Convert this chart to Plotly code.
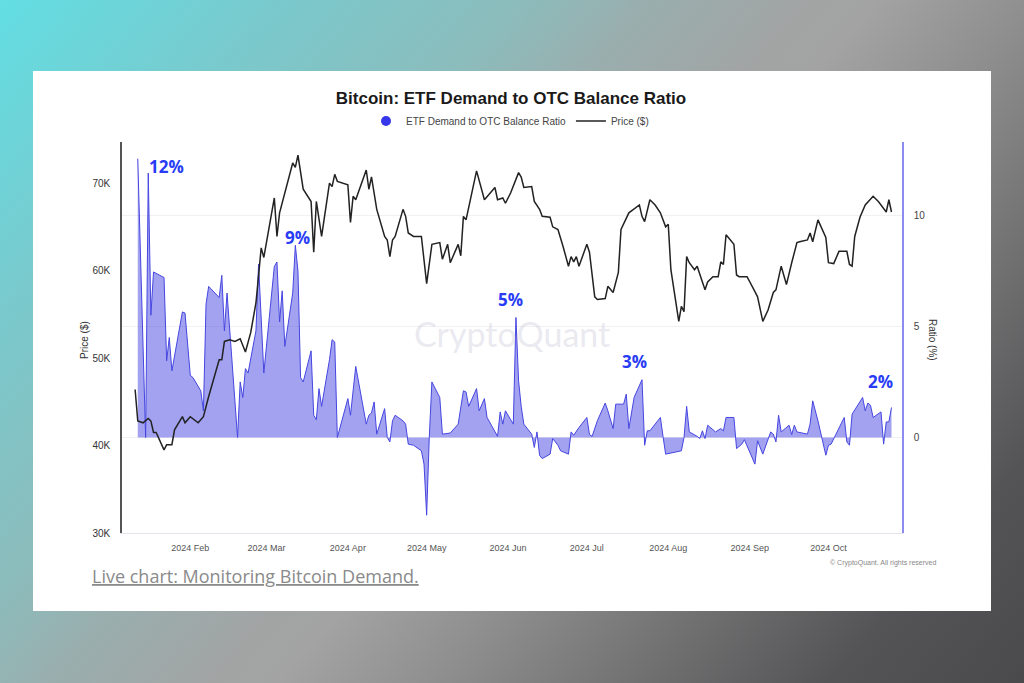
import base64
import plotly.graph_objects as go

# ---------------- data ----------------
price_dates = ["2024-01-11","2024-01-12","2024-01-14","2024-01-16","2024-01-17","2024-01-18","2024-01-19","2024-01-22","2024-01-23","2024-01-25",
"2024-01-26","2024-01-29","2024-01-30","2024-02-01","2024-02-04","2024-02-06","2024-02-08","2024-02-12","2024-02-13","2024-02-14",
"2024-02-16","2024-02-18","2024-02-20","2024-02-22","2024-02-24","2024-02-26","2024-02-28","2024-02-29","2024-03-04","2024-03-05",
"2024-03-06","2024-03-11","2024-03-12","2024-03-13","2024-03-15","2024-03-18","2024-03-19","2024-03-20","2024-03-22","2024-03-25",
"2024-03-26","2024-03-27","2024-03-28","2024-04-01","2024-04-02","2024-04-03","2024-04-04","2024-04-06","2024-04-08","2024-04-09",
"2024-04-10","2024-04-12","2024-04-15","2024-04-16","2024-04-17","2024-04-18","2024-04-19","2024-04-22","2024-04-23","2024-04-24",
"2024-04-26","2024-04-29","2024-05-01","2024-05-03","2024-05-06","2024-05-07","2024-05-09","2024-05-10","2024-05-13","2024-05-14",
"2024-05-15","2024-05-16","2024-05-20","2024-05-23","2024-05-27","2024-05-28","2024-05-30","2024-05-31","2024-06-02","2024-06-05",
"2024-06-06","2024-06-07","2024-06-10","2024-06-11","2024-06-13","2024-06-14","2024-06-17","2024-06-18","2024-06-20","2024-06-22",
"2024-06-24","2024-06-25","2024-06-26","2024-06-27","2024-06-28","2024-07-01","2024-07-02","2024-07-04","2024-07-05","2024-07-08",
"2024-07-09","2024-07-11","2024-07-13","2024-07-14","2024-07-15","2024-07-17","2024-07-21","2024-07-22","2024-07-23","2024-07-25",
"2024-07-27","2024-07-29","2024-07-31","2024-08-01","2024-08-02","2024-08-05","2024-08-06","2024-08-07","2024-08-08","2024-08-09",
"2024-08-11","2024-08-12","2024-08-14","2024-08-15","2024-08-16","2024-08-18","2024-08-20","2024-08-21","2024-08-22","2024-08-23",
"2024-08-26","2024-08-27","2024-08-28","2024-08-31","2024-09-03","2024-09-04","2024-09-06","2024-09-08","2024-09-10","2024-09-11",
"2024-09-13","2024-09-15","2024-09-17","2024-09-19","2024-09-20","2024-09-23","2024-09-24","2024-09-25","2024-09-27","2024-09-30",
"2024-10-01","2024-10-03","2024-10-05","2024-10-08","2024-10-09","2024-10-10","2024-10-11","2024-10-13","2024-10-15","2024-10-16",
"2024-10-18","2024-10-20","2024-10-21","2024-10-23","2024-10-24","2024-10-25"]
price_k = [46.4,42.8,42.6,43.1,42.8,41.5,41.5,39.5,40.1,40.1,
41.8,43.3,42.6,43.3,42.6,43.3,45.6,49.8,49.8,51.9,
52.1,51.9,52.2,50.7,52.9,56.3,62.6,61.5,68.3,63.9,
66.6,72.3,71.8,73.2,69.3,67.9,62.1,67.9,63.9,70.0,
69.6,71.0,70.2,69.8,65.5,68.5,68.1,69.8,71.5,69.3,
70.7,67.0,63.9,63.5,61.6,63.5,63.9,67.0,66.2,64.3,
63.9,63.9,58.5,63.0,63.2,61.3,63.0,60.9,63.0,61.7,
66.2,65.8,71.4,68.1,69.5,68.1,68.3,67.7,68.9,71.2,
70.7,69.5,69.6,67.9,67.0,66.2,66.1,65.0,64.7,62.7,
60.5,61.6,61.0,61.6,60.5,63.0,62.1,57.0,56.7,56.8,
58.2,57.5,59.8,64.7,65.3,66.6,67.5,66.2,65.6,68.1,
67.5,66.6,65.0,65.3,60.1,54.2,55.9,55.3,61.6,60.9,
60.1,60.5,58.7,57.8,58.7,59.3,59.3,61.0,60.7,64.1,
63.0,59.5,59.3,59.3,57.6,57.0,54.2,55.5,57.5,57.8,
60.5,58.4,60.9,63.2,63.3,63.5,64.3,63.3,65.8,63.8,
60.9,60.8,62.2,62.2,60.7,60.5,63.9,66.1,67.5,67.8,
68.5,67.9,67.5,66.7,68.1,66.7]

ratio_dates = ["2024-01-12","2024-01-15","2024-01-16","2024-01-17","2024-01-18","2024-01-22","2024-01-23","2024-01-24","2024-01-25","2024-01-29",
"2024-01-30","2024-02-01","2024-02-02","2024-02-05","2024-02-06","2024-02-07","2024-02-08","2024-02-12","2024-02-13","2024-02-14",
"2024-02-15","2024-02-19","2024-02-20","2024-02-21","2024-02-22","2024-02-23","2024-02-26","2024-02-27","2024-02-29","2024-03-04",
"2024-03-05","2024-03-06","2024-03-07","2024-03-08","2024-03-11","2024-03-12","2024-03-13","2024-03-14","2024-03-15","2024-03-18",
"2024-03-19","2024-03-20","2024-03-21","2024-03-22","2024-03-25","2024-03-26","2024-03-27","2024-03-28","2024-04-01","2024-04-02",
"2024-04-04","2024-04-08","2024-04-09","2024-04-10","2024-04-11","2024-04-12","2024-04-15","2024-04-16","2024-04-17","2024-04-18",
"2024-04-19","2024-04-22","2024-04-23","2024-04-24","2024-04-26","2024-04-29","2024-04-30","2024-05-01","2024-05-02","2024-05-03",
"2024-05-06","2024-05-07","2024-05-10","2024-05-13","2024-05-15","2024-05-16","2024-05-17","2024-05-20","2024-05-21","2024-05-23",
"2024-05-24","2024-05-28","2024-05-29","2024-05-30","2024-05-31","2024-06-03","2024-06-04","2024-06-05","2024-06-06","2024-06-07",
"2024-06-10","2024-06-11","2024-06-12","2024-06-13","2024-06-14","2024-06-17","2024-06-18","2024-06-20","2024-06-21","2024-06-24",
"2024-06-25","2024-06-26","2024-06-28","2024-07-01","2024-07-02","2024-07-03","2024-07-05","2024-07-08","2024-07-09","2024-07-11",
"2024-07-12","2024-07-15","2024-07-16","2024-07-17","2024-07-19","2024-07-22","2024-07-23","2024-07-24","2024-07-25","2024-07-29",
"2024-07-30","2024-07-31","2024-08-06","2024-08-07","2024-08-08","2024-08-09","2024-08-12","2024-08-13","2024-08-14","2024-08-15",
"2024-08-16","2024-08-19","2024-08-21","2024-08-22","2024-08-23","2024-08-26","2024-08-27","2024-08-29","2024-08-30","2024-09-03",
"2024-09-04","2024-09-06","2024-09-09","2024-09-10","2024-09-11","2024-09-12","2024-09-13","2024-09-16","2024-09-17","2024-09-18",
"2024-09-19","2024-09-23","2024-09-24","2024-09-25","2024-09-27","2024-09-30","2024-10-01","2024-10-02","2024-10-07","2024-10-08",
"2024-10-09","2024-10-10","2024-10-14","2024-10-15","2024-10-16","2024-10-17","2024-10-18","2024-10-21","2024-10-22","2024-10-23",
"2024-10-24","2024-10-25"]
ratio_pct = [12.55,0.0,11.9,5.5,7.45,7.2,3.45,4.5,3.0,5.65,
5.6,2.8,2.7,2.1,1.2,6.0,6.8,6.3,7.3,4.8,
6.5,0.0,2.5,1.8,3.1,2.9,4.8,7.8,2.9,7.7,
7.9,5.2,6.6,4.1,6.5,8.65,7.5,2.7,2.5,3.9,
1.0,0.8,2.2,1.4,3.5,4.4,4.3,0.0,1.75,1.0,
3.2,0.6,1.0,1.1,1.6,0.15,1.3,0.0,-0.2,0.75,
1.0,0.75,0.6,-0.3,-0.35,-0.6,-1.2,-3.5,0.0,2.5,
1.8,0.15,0.2,0.6,2.1,2.05,1.4,2.2,1.2,1.75,
0.9,0.05,1.15,0.6,1.2,0.6,5.4,2.55,1.4,0.6,
0.15,-0.45,0.25,-0.8,-0.95,-0.75,-0.05,-0.35,-0.6,-0.75,
0.25,0.1,0.45,0.9,0.13,0.05,0.75,1.55,1.2,0.4,
1.5,1.5,1.95,0.4,1.8,2.6,-0.35,0.3,0.3,0.9,
0.05,-0.75,-0.6,0.0,1.4,0.25,0.05,-0.05,0.3,-0.05,
0.55,0.25,0.4,0.3,0.9,0.9,-0.5,-0.3,-0.1,-1.2,
-0.15,-0.75,0.25,0.15,-0.2,1.0,0.25,0.55,0.13,0.55,
0.25,0.15,0.6,1.65,0.75,-0.8,-0.35,-0.3,0.9,-0.2,
-0.35,1.05,1.8,1.2,1.55,1.45,0.9,1.15,-0.3,0.7,
0.7,1.35]

assert len(price_dates) == len(price_k), (len(price_dates), len(price_k))
assert len(ratio_dates) == len(ratio_pct), (len(ratio_dates), len(ratio_pct))

month_ticks = ["2024-02-01","2024-03-01","2024-04-01","2024-05-01","2024-06-01",
               "2024-07-01","2024-08-01","2024-09-01","2024-10-01"]
month_labels = ["2024 Feb","2024 Mar","2024 Apr","2024 May","2024 Jun",
                "2024 Jul","2024 Aug","2024 Sep","2024 Oct"]
price_ticks = [30, 40, 50, 60, 70]
price_tick_labels = ["30K", "40K", "50K", "60K", "70K"]
ratio_ticks = [0, 5, 10]

peak_labels = ["12%", "9%", "5%", "3%", "2%"]
peak_dates = ["2024-01-23", "2024-03-13", "2024-06-02", "2024-07-19", "2024-10-21"]
peak_levels = [12.2, 9.0, 6.2, 3.4, 2.5]

# ---------------- geometry ----------------
W, H = 1024, 683
L, R, T, B = 122, 122, 142, 150
PW, PH = W - L - R, H - T - B


def px(x):
    return (x - L) / PW


def py(y):
    return (H - B - y) / PH


# gradient background as an svg image
svg = (
    "<svg xmlns='http://www.w3.org/2000/svg' width='1024' height='683'>"
    "<defs><linearGradient id='g' x1='0' y1='0' x2='916' y2='806' gradientUnits='userSpaceOnUse'>"
    "<stop offset='0' stop-color='#62DEE3'/>"
    "<stop offset='0.185' stop-color='#7BC8CB'/>"
    "<stop offset='0.32' stop-color='#8CBCBC'/>"
    "<stop offset='0.40' stop-color='#9AAEAE'/>"
    "<stop offset='0.50' stop-color='#A2A4A4'/>"
    "<stop offset='0.54' stop-color='#A3A3A3'/>"
    "<stop offset='0.64' stop-color='#8E8E8E'/>"
    "<stop offset='0.88' stop-color='#545456'/>"
    "<stop offset='1' stop-color='#4A4A4C'/>"
    "</linearGradient></defs>"
    "<rect width='1024' height='683' fill='url(#g)'/></svg>"
)
bg_src = "data:image/svg+xml;base64," + base64.b64encode(svg.encode()).decode()

BLUE = "rgb(70,70,225)"

fig = go.Figure()

fig.add_trace(go.Scatter(
    x=ratio_dates, y=ratio_pct, mode="lines", fill="tozeroy",
    line=dict(color=BLUE, width=1), fillcolor="rgba(70,70,225,0.5)",
    name="ETF Demand to OTC Balance Ratio", showlegend=False, yaxis="y",
))
fig.add_trace(go.Scatter(
    x=[None], y=[None], mode="markers",
    marker=dict(size=10, color="rgb(55,55,235)"),
    name="ETF Demand to OTC Balance Ratio", yaxis="y",
))
fig.add_trace(go.Scatter(
    x=price_dates, y=price_k, mode="lines",
    line=dict(color="#222222", width=1.5),
    name="Price ($)", yaxis="y2",
))

annotations = []
for lab, d, lv in zip(peak_labels, peak_dates, peak_levels):
    annotations.append(dict(
        x=d, y=lv, xref="x", yref="y", text="<b>" + lab + "</b>", showarrow=False,
        font=dict(family="Open Sans", size=17, color="rgb(40,60,245)"),
        xanchor="center", yanchor="middle",
    ))

annotations += [
    dict(x=px(84), y=py(340), xref="paper", yref="paper", text="Price ($)",
         textangle=-90, showarrow=False, xanchor="center", yanchor="middle",
         font=dict(family="Liberation Sans", size=10, color="#333")),
    dict(x=px(933), y=py(340), xref="paper", yref="paper", text="Ratio (%)",
         textangle=90, showarrow=False, xanchor="center", yanchor="middle",
         font=dict(family="Liberation Sans", size=10, color="#333")),
    dict(x=px(512), y=py(333), xref="paper", yref="paper", text="CryptoQuant",
         showarrow=False, xanchor="center", yanchor="middle",
         font=dict(family="Lato", size=34, color="rgba(200,200,215,0.4)")),
    dict(x=px(938), y=py(563), xref="paper", yref="paper", text="© CryptoQuant. All rights reserved",
         xanchor="right", yanchor="middle", showarrow=False,
         font=dict(family="Liberation Sans Narrow, Liberation Sans", size=7, color="#888")),
    dict(x=px(90), y=py(576), xref="paper", yref="paper", text="<u>Live chart: Monitoring Bitcoin Demand.</u>",
         xanchor="left", yanchor="middle", showarrow=False,
         font=dict(family="Open Sans", size=18, color="#8a8a8a")),
]

fig.update_layout(
    width=W, height=H,
    margin=dict(l=L, r=R, t=T, b=B, pad=0),
    paper_bgcolor="#8a9a9a",
    plot_bgcolor="rgba(0,0,0,0)",
    font=dict(family="Liberation Sans", color="#333"),
    title=dict(text="<b>Bitcoin: ETF Demand to OTC Balance Ratio</b>",
               x=511 / W, xanchor="center",
               y=1 - 98 / H, yanchor="middle",
               font=dict(family="Liberation Sans", size=17, color="#1a1a1a")),
    showlegend=True,
    legend=dict(orientation="h", x=px(510), xanchor="center", y=py(121), yanchor="middle",
                font=dict(size=10, color="#444"), bgcolor="rgba(0,0,0,0)",
                itemwidth=30, tracegroupgap=0),
    xaxis=dict(type="date", range=["2024-01-06", "2024-10-29"],
               tickvals=month_ticks, ticktext=month_labels,
               tickfont=dict(size=9, color="#555"), showgrid=False, zeroline=False,
               showline=True, linecolor="#e4e4ec", linewidth=1, ticks="",
               ticklabelstandoff=6),
    yaxis=dict(side="right", range=[-4.3, 13.3], tickvals=ratio_ticks,
               showgrid=True, gridcolor="#f1f1f3", gridwidth=1, zeroline=False,
               showline=True, linecolor="#8c8cf0", linewidth=1.5,
               tickfont=dict(size=10, color="#444"), ticks="", ticklabelstandoff=8),
    yaxis2=dict(side="left", overlaying="y", range=[30, 74.7],
                tickvals=price_ticks, ticktext=price_tick_labels,
                showgrid=False, zeroline=False,
                showline=True, linecolor="#555", linewidth=1.5,
                tickfont=dict(size=10, color="#333"), ticks="", ticklabelstandoff=8),
    images=[dict(source=bg_src, xref="paper", yref="paper",
                 x=px(0), y=py(0), sizex=W / PW, sizey=H / PH,
                 xanchor="left", yanchor="top", sizing="stretch", layer="below")],
    shapes=[dict(type="rect", xref="paper", yref="paper",
                 x0=px(33), x1=px(991), y0=py(611), y1=py(71),
                 fillcolor="white", line=dict(width=0), layer="below")],
    annotations=annotations,
)

fig.write_html(
    "out.html",
    config={"displayModeBar": False},
    post_script="document.body.style.margin='0';document.body.style.overflow='hidden';",
)
